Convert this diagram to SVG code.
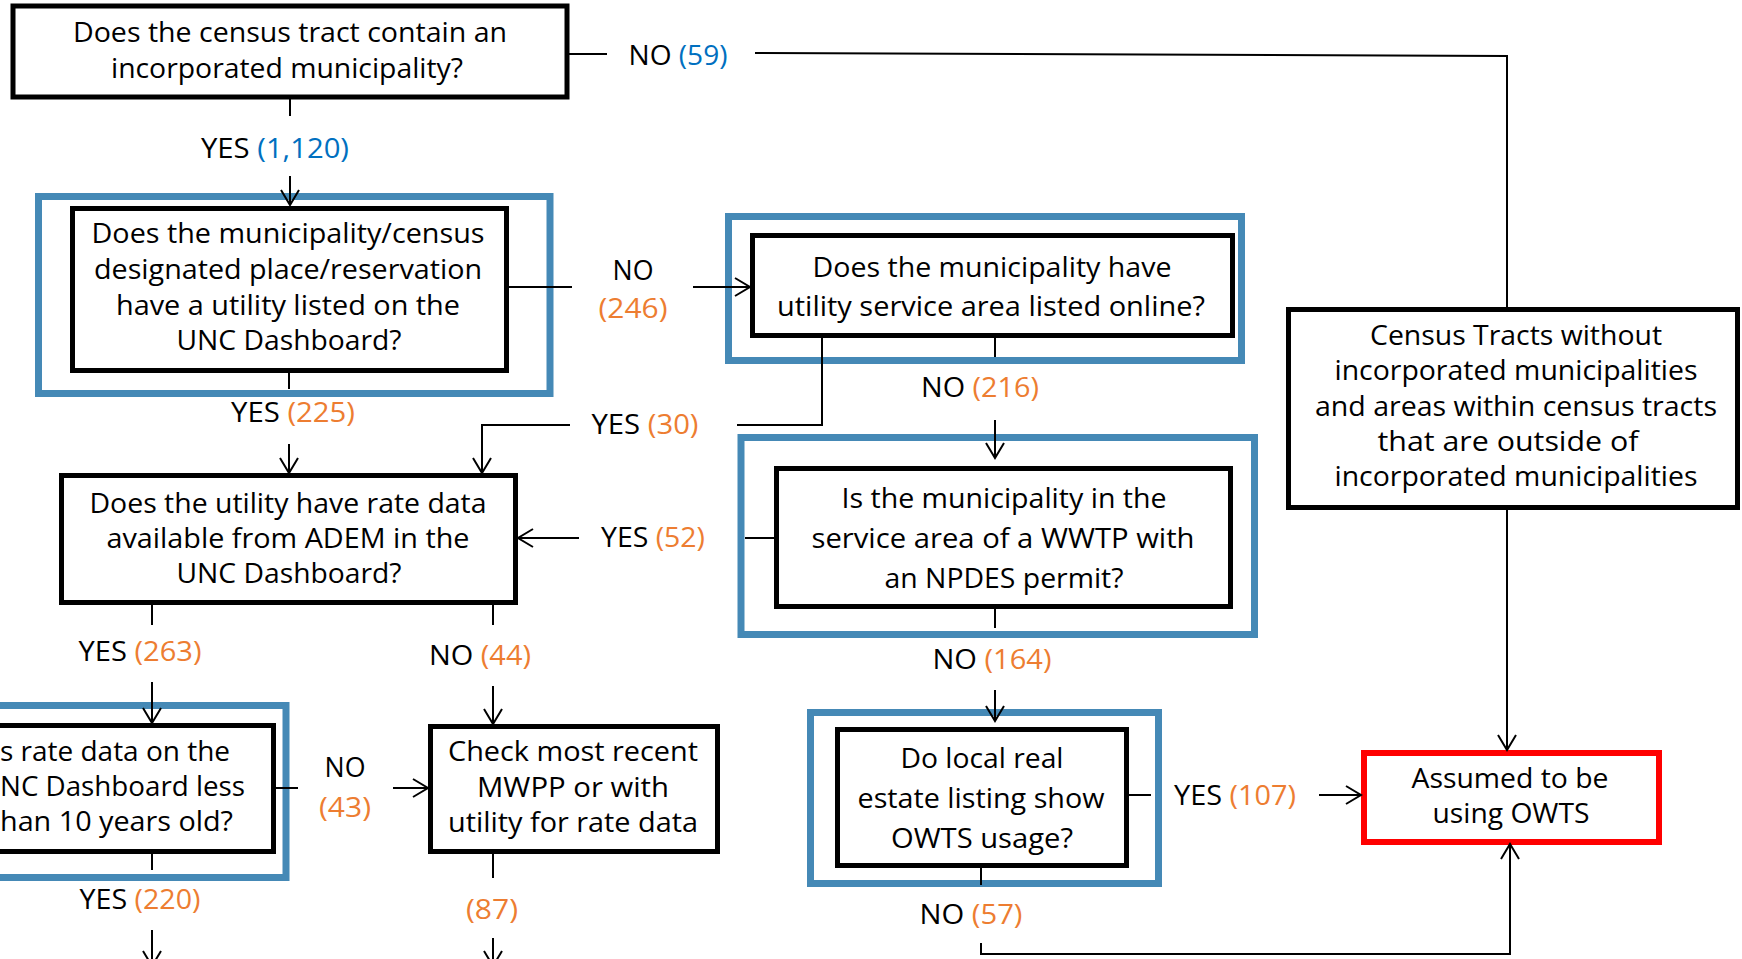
<svg xmlns="http://www.w3.org/2000/svg" width="1742" height="959" viewBox="0 0 1742 959">
<style>
.bk{fill:#fff;stroke:#000;stroke-width:5}
.bl{fill:none;stroke:#4589B6;stroke-width:7}
.rd{fill:#fff;stroke:#FF0000;stroke-width:6}
.c line,.c polyline{fill:none;stroke:#000;stroke-width:2}
text{font-family:"Open Sans","Noto Sans","Liberation Sans",sans-serif;font-size:27px;fill:#000;text-anchor:middle}
.lg{font-size:28px}
.st{text-anchor:start}
.b{fill:#0070C0}
.o{fill:#ED7D31}
</style>
<defs>
<marker id="ar" markerUnits="userSpaceOnUse" markerWidth="24" markerHeight="24" viewBox="-18 -12 20 24" refX="0" refY="0" orient="auto" overflow="visible">
<path d="M-15,-9 L0,0 L-15,9" fill="none" stroke="#000" stroke-width="2"/>
</marker>
</defs>
<rect width="1742" height="959" fill="#fff"/>

<g id="n1">
<rect class="bk" x="13" y="6" width="554" height="91"/>
<text x="290" y="42" textLength="434" lengthAdjust="spacingAndGlyphs">Does the census tract contain an</text>
<text x="287" y="78" textLength="352" lengthAdjust="spacingAndGlyphs">incorporated municipality?</text>
</g>

<g id="n2">
<rect class="bl" x="38.5" y="196.5" width="511.5" height="197"/>
<rect class="bk" x="72.5" y="208.5" width="434" height="162"/>
<text x="288" y="243" textLength="393" lengthAdjust="spacingAndGlyphs">Does the municipality/census</text>
<text x="288" y="279" textLength="388" lengthAdjust="spacingAndGlyphs">designated place/reservation</text>
<text x="288" y="315" textLength="344" lengthAdjust="spacingAndGlyphs">have a utility listed on the</text>
<text x="289" y="350" textLength="225" lengthAdjust="spacingAndGlyphs">UNC Dashboard?</text>
</g>

<g id="n3">
<rect class="bl" x="728.5" y="216.5" width="513" height="144"/>
<rect class="bk" x="752.5" y="235.5" width="480" height="100"/>
<text x="992" y="277" textLength="359" lengthAdjust="spacingAndGlyphs">Does the municipality have</text>
<text x="991" y="316" textLength="428" lengthAdjust="spacingAndGlyphs">utility service area listed online?</text>
</g>

<g id="n4">
<rect class="bk" x="61.5" y="475.5" width="454" height="127"/>
<text x="288" y="513" textLength="397" lengthAdjust="spacingAndGlyphs">Does the utility have rate data</text>
<text x="288" y="548" textLength="363" lengthAdjust="spacingAndGlyphs">available from ADEM in the</text>
<text x="289" y="583" textLength="225" lengthAdjust="spacingAndGlyphs">UNC Dashboard?</text>
</g>

<g id="n5">
<rect class="bl" x="741" y="437.5" width="513.5" height="197"/>
<rect class="bk" x="776.5" y="468.5" width="454" height="138"/>
<text class="lg" x="1004" y="508" textLength="325" lengthAdjust="spacingAndGlyphs">Is the municipality in the</text>
<text class="lg" x="1003" y="548" textLength="383" lengthAdjust="spacingAndGlyphs">service area of a WWTP with</text>
<text class="lg" x="1004" y="588" textLength="239" lengthAdjust="spacingAndGlyphs">an NPDES permit?</text>
</g>

<g id="n6">
<rect class="bk" x="1288.5" y="309.5" width="449" height="198"/>
<text class="lg" x="1516" y="345" textLength="292" lengthAdjust="spacingAndGlyphs">Census Tracts without</text>
<text class="lg" x="1516" y="380" textLength="363" lengthAdjust="spacingAndGlyphs">incorporated municipalities</text>
<text class="lg" x="1516" y="416" textLength="402" lengthAdjust="spacingAndGlyphs">and areas within census tracts</text>
<text class="lg" x="1508" y="451" textLength="261" lengthAdjust="spacingAndGlyphs">that are outside of</text>
<text class="lg" x="1516" y="486" textLength="363" lengthAdjust="spacingAndGlyphs">incorporated municipalities</text>
</g>

<g id="n7">
<rect class="bl" x="-100" y="705.5" width="386" height="172"/>
<rect class="bk" x="-100" y="725.5" width="373.5" height="126"/>
<text class="st" x="0" y="761" textLength="230" lengthAdjust="spacingAndGlyphs">s rate data on the</text>
<text class="st" x="0" y="796" textLength="245" lengthAdjust="spacingAndGlyphs">NC Dashboard less</text>
<text class="st" x="0" y="831" textLength="233" lengthAdjust="spacingAndGlyphs">han 10 years old?</text>
</g>

<g id="n8">
<rect class="bk" x="430.5" y="726.5" width="287" height="125"/>
<text x="573" y="761" textLength="250" lengthAdjust="spacingAndGlyphs">Check most recent</text>
<text x="573" y="797" textLength="192" lengthAdjust="spacingAndGlyphs">MWPP or with</text>
<text x="573" y="832" textLength="250" lengthAdjust="spacingAndGlyphs">utility for rate data</text>
</g>

<g id="n9">
<rect class="bl" x="810.5" y="712.5" width="348" height="171"/>
<rect class="bk" x="837.5" y="729.5" width="289" height="136"/>
<text class="lg" x="982" y="768" textLength="163" lengthAdjust="spacingAndGlyphs">Do local real</text>
<text class="lg" x="981" y="808" textLength="247" lengthAdjust="spacingAndGlyphs">estate listing show</text>
<text class="lg" x="982" y="848" textLength="182" lengthAdjust="spacingAndGlyphs">OWTS usage?</text>
</g>

<g id="n10">
<rect class="rd" x="1364" y="753" width="295" height="89"/>
<text x="1510" y="788" textLength="197" lengthAdjust="spacingAndGlyphs">Assumed to be</text>
<text x="1511" y="823" textLength="157" lengthAdjust="spacingAndGlyphs">using OWTS</text>
</g>

<g id="connectors" class="c">
<line x1="290" y1="99" x2="290" y2="116"/>
<line x1="290" y1="176" x2="290" y2="205" marker-end="url(#ar)"/>
<line x1="289" y1="371" x2="289" y2="389"/>
<line x1="289" y1="444" x2="289" y2="473" marker-end="url(#ar)"/>
<line x1="509" y1="287" x2="572" y2="287"/>
<line x1="693" y1="287" x2="750" y2="287" marker-end="url(#ar)"/>
<line x1="995" y1="338" x2="995" y2="357"/>
<line x1="995" y1="420" x2="995" y2="458" marker-end="url(#ar)"/>
<polyline points="822,338 822,425 737,425"/>
<polyline points="570,425 482,425 482,473" marker-end="url(#ar)"/>
<line x1="775" y1="538" x2="745" y2="538"/>
<line x1="579" y1="538" x2="518" y2="538" marker-end="url(#ar)"/>
<line x1="995" y1="609" x2="995" y2="628"/>
<line x1="995" y1="690" x2="995" y2="721" marker-end="url(#ar)"/>
<line x1="152" y1="603" x2="152" y2="625"/>
<line x1="152" y1="682" x2="152" y2="723" marker-end="url(#ar)"/>
<line x1="493" y1="603" x2="493" y2="625"/>
<line x1="493" y1="686" x2="493" y2="724" marker-end="url(#ar)"/>
<line x1="276" y1="788" x2="298" y2="788"/>
<line x1="393" y1="788" x2="428" y2="788" marker-end="url(#ar)"/>
<line x1="152" y1="854" x2="152" y2="870"/>
<line x1="152" y1="930" x2="152" y2="966" marker-end="url(#ar)"/>
<line x1="493" y1="854" x2="493" y2="878"/>
<line x1="493" y1="938" x2="493" y2="966" marker-end="url(#ar)"/>
<line x1="569" y1="54" x2="607" y2="54"/>
<polyline points="755,53 1507,56 1507,307"/>
<line x1="1507" y1="510" x2="1507" y2="750" marker-end="url(#ar)"/>
<line x1="1129" y1="795" x2="1151" y2="795"/>
<line x1="1319" y1="795" x2="1361" y2="795" marker-end="url(#ar)"/>
<line x1="981" y1="868" x2="981" y2="885"/>
<polyline points="981,943 981,954 1510,954 1510,844" marker-end="url(#ar)"/>
</g>

<g id="labels">
<text x="678" y="65" textLength="99" lengthAdjust="spacingAndGlyphs">NO <tspan class="b">(59)</tspan></text>
<text x="275" y="158" textLength="148" lengthAdjust="spacingAndGlyphs">YES <tspan class="b">(1,120)</tspan></text>
<text x="633" y="280" textLength="41" lengthAdjust="spacingAndGlyphs">NO</text>
<text x="633" y="318" class="o" textLength="69" lengthAdjust="spacingAndGlyphs">(246)</text>
<text x="645" y="434" textLength="107" lengthAdjust="spacingAndGlyphs">YES <tspan class="o">(30)</tspan></text>
<text x="293" y="422" textLength="124" lengthAdjust="spacingAndGlyphs">YES <tspan class="o">(225)</tspan></text>
<text x="980" y="397" textLength="118" lengthAdjust="spacingAndGlyphs">NO <tspan class="o">(216)</tspan></text>
<text x="653" y="547" textLength="104" lengthAdjust="spacingAndGlyphs">YES <tspan class="o">(52)</tspan></text>
<text x="992" y="669" textLength="119" lengthAdjust="spacingAndGlyphs">NO <tspan class="o">(164)</tspan></text>
<text x="140" y="661" textLength="123" lengthAdjust="spacingAndGlyphs">YES <tspan class="o">(263)</tspan></text>
<text x="480" y="665" textLength="102" lengthAdjust="spacingAndGlyphs">NO <tspan class="o">(44)</tspan></text>
<text x="345" y="777" textLength="41" lengthAdjust="spacingAndGlyphs">NO</text>
<text x="345" y="817" class="o" textLength="52" lengthAdjust="spacingAndGlyphs">(43)</text>
<text x="140" y="909" textLength="121" lengthAdjust="spacingAndGlyphs">YES <tspan class="o">(220)</tspan></text>
<text x="492" y="919" class="o" textLength="52" lengthAdjust="spacingAndGlyphs">(87)</text>
<text x="1235" y="805" textLength="122" lengthAdjust="spacingAndGlyphs">YES <tspan class="o">(107)</tspan></text>
<text x="971" y="924" textLength="103" lengthAdjust="spacingAndGlyphs">NO <tspan class="o">(57)</tspan></text>
</g>
</svg>
